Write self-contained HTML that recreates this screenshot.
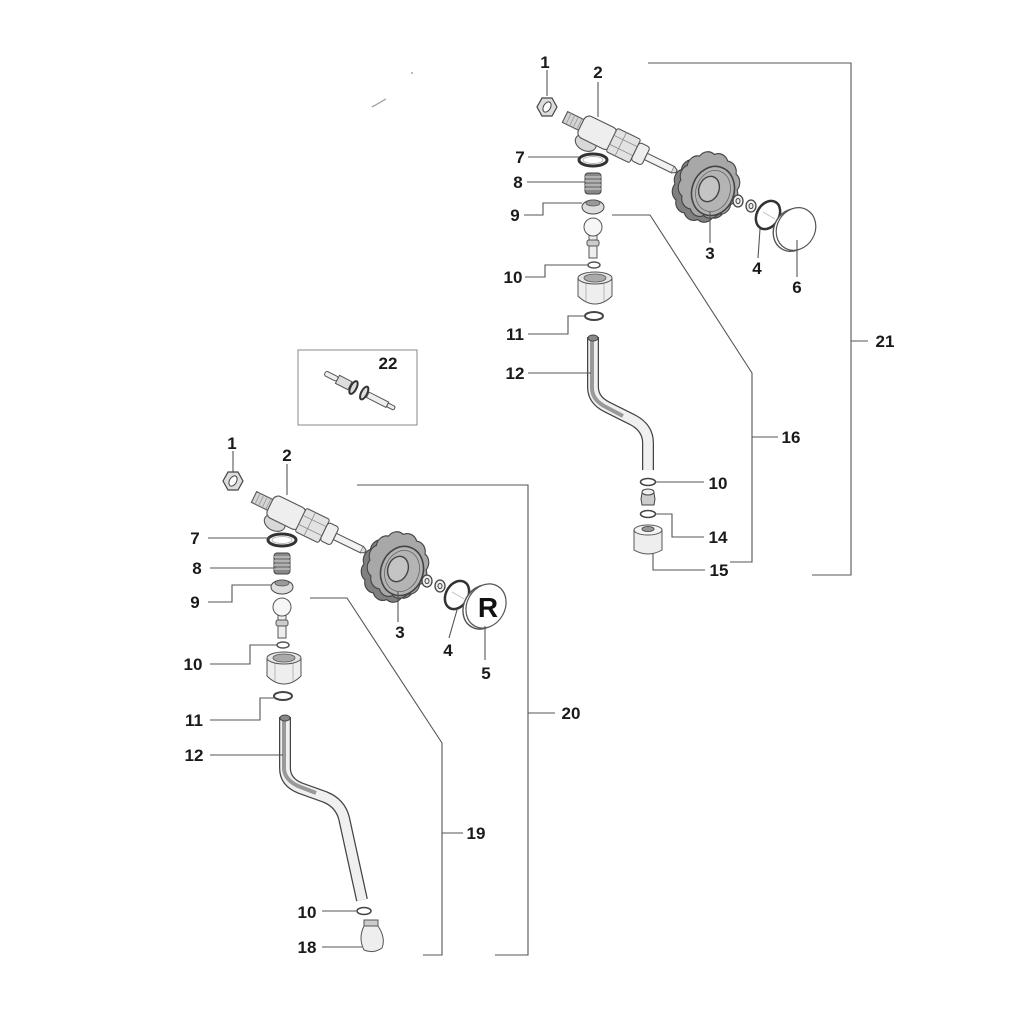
<!DOCTYPE html>
<html><head><meta charset="utf-8"><style>
html,body{margin:0;padding:0;background:#fff;}
svg{display:block;}
text{font-family:"Liberation Sans",sans-serif;font-weight:bold;font-size:17px;fill:#1a1a1a;text-anchor:middle;}
.l{stroke:#555;stroke-width:1.1;fill:none;}
</style></head><body>
<svg width="1024" height="1024" viewBox="0 0 1024 1024" xmlns="http://www.w3.org/2000/svg">
<rect width="1024" height="1024" fill="#fff"/>
<defs>
<path id="gear" d="M31,0 A11,11 0 0 1 26.85,15.5 A11,11 0 0 1 15.5,26.85 A11,11 0 0 1 0,31 A11,11 0 0 1 -15.5,26.85 A11,11 0 0 1 -26.85,15.5 A11,11 0 0 1 -31,0 A11,11 0 0 1 -26.85,-15.5 A11,11 0 0 1 -15.5,-26.85 A11,11 0 0 1 0,-31 A11,11 0 0 1 15.5,-26.85 A11,11 0 0 1 26.85,-15.5 A11,11 0 0 1 31,0 Z"/>
<g id="va">
  <g transform="translate(565,117) rotate(26)" stroke="#555" stroke-width="1.1">
    <ellipse cx="30" cy="14" rx="11" ry="8" fill="#d8d8d8"/>
    <rect x="0" y="-6" width="20" height="12" fill="#d4d4d4"/>
    <path d="M4,-6v12M8,-6v12M12,-6v12M16,-6v12" stroke="#999" stroke-width="0.8"/>
    <rect x="18" y="-12" width="36" height="24" rx="6" fill="#eee"/>
    <rect x="52" y="-13" width="26" height="26" rx="2" fill="#e2e2e2"/>
    <path d="M52,-5h26M52,5h26M62,-13v26" stroke="#888" stroke-width="0.8"/>
    <rect x="78" y="-10" width="12" height="20" rx="3" fill="#eee"/>
    <rect x="90" y="-3.5" width="30" height="7" fill="#f2f2f2"/>
    <path d="M120,-3.5 L124,-1.5 L124,1.5 L120,3.5" fill="#ddd"/>
  </g>
  <ellipse cx="593" cy="160" rx="14" ry="6" fill="none" stroke="#333" stroke-width="3"/>
  <ellipse cx="593" cy="160" rx="10" ry="3.5" fill="none" stroke="#aaa" stroke-width="0.8"/>
  <rect x="585" y="173" width="16" height="21" rx="3" fill="#888" stroke="#444"/>
  <path d="M585,177h16M585,181h16M585,185h16M585,189h16" stroke="#ddd" stroke-width="1"/>
  <ellipse cx="593" cy="207" rx="11" ry="7" fill="#ddd" stroke="#444"/>
  <ellipse cx="593" cy="203" rx="7" ry="3" fill="#999" stroke="#555" stroke-width="0.8"/>
  <rect x="589" y="234" width="8" height="24" fill="#eee" stroke="#555"/>
  <rect x="587" y="240" width="12" height="6" rx="2" fill="#ccc" stroke="#555"/>
  <circle cx="593" cy="227" r="9" fill="#f6f6f6" stroke="#555"/>
  <ellipse cx="594" cy="265" rx="6" ry="3" fill="none" stroke="#555" stroke-width="1.5"/>
  <path d="M578,278 L578,296 Q586,304 595,304 Q604,304 612,296 L612,278 Z" fill="#eee" stroke="#555"/>
  <path d="M586,281 V301 M604,281 V301" stroke="#aaa" stroke-width="0.8"/>
  <ellipse cx="595" cy="278" rx="17" ry="6" fill="#e6e6e6" stroke="#555"/>
  <ellipse cx="595" cy="278" rx="11" ry="4" fill="#aaa" stroke="#555" stroke-width="0.8"/>
  <ellipse cx="594" cy="316" rx="9" ry="4" fill="none" stroke="#444" stroke-width="2"/>
  <!-- knob -->
  <use href="#gear" transform="translate(703,189) rotate(10) scale(0.92,1)" fill="#808080" stroke="#444" stroke-width="1.2"/>
  <use href="#gear" transform="translate(709,185) rotate(10) scale(0.92,1)" fill="#a8a8a8" stroke="#444" stroke-width="1.2"/>
  <ellipse cx="713" cy="191" rx="21" ry="25" transform="rotate(20 713 191)" fill="#b4b4b4" stroke="#444" stroke-width="1.6"/>
  <ellipse cx="713" cy="191" rx="17" ry="21" transform="rotate(20 713 191)" fill="none" stroke="#666" stroke-width="0.8"/>
  <ellipse cx="709" cy="189" rx="10" ry="13" transform="rotate(20 709 189)" fill="#c4c4c4" stroke="#444" stroke-width="1.4"/>
  <ellipse cx="738" cy="201" rx="5" ry="6" fill="#eee" stroke="#444" stroke-width="1.3"/>
  <ellipse cx="738" cy="201" rx="2" ry="2.5" fill="none" stroke="#444"/>
  <ellipse cx="751" cy="206" rx="5" ry="6" fill="#eee" stroke="#444" stroke-width="1.3"/>
  <ellipse cx="751" cy="206" rx="2" ry="2.5" fill="none" stroke="#444"/>
  <ellipse cx="768" cy="215" rx="11" ry="15" transform="rotate(30 768 215)" fill="none" stroke="#333" stroke-width="2.5"/>
  <line x1="763" y1="212" x2="775" y2="219" stroke="#bbb" stroke-width="0.8"/>
</g>
</defs>

<path d="M372,107 L386,99" stroke="#999" stroke-width="1.2"/>
<circle cx="412" cy="73" r="1" fill="#aaa"/>

<!-- TOP ASSEMBLY -->
<use href="#va"/>
<polygon points="557,107 552,116 542,116 537,107 542,98 552,98" fill="#ddd" stroke="#444" stroke-width="1.2"/>
<ellipse cx="547" cy="107" rx="3.5" ry="5.5" transform="rotate(30 547 107)" fill="#fff" stroke="#444"/>
<ellipse cx="793" cy="230" rx="19" ry="22" transform="rotate(30 793 230)" fill="#fff" stroke="#555" stroke-width="1.4"/>
<ellipse cx="796" cy="229" rx="19" ry="22" transform="rotate(30 796 229)" fill="#fff" stroke="#555" stroke-width="1.2"/>
<path d="M593,337 L593,387 Q593,400 607,407 L633,420 Q648,428 648,443 L648,470" fill="none" stroke="#444" stroke-width="12"/>
<path d="M593,337 L593,387 Q593,400 607,407 L633,420 Q648,428 648,443 L648,470" fill="none" stroke="#f0f0f0" stroke-width="9.5"/>
<path d="M592,340 L592,388 Q592,399 604,406 L623,416" fill="none" stroke="#999" stroke-width="4"/>
<ellipse cx="593" cy="338" rx="5" ry="3" fill="#888" stroke="#444"/>
<ellipse cx="648" cy="482" rx="7.5" ry="3.5" fill="none" stroke="#444" stroke-width="1.5"/>
<path d="M642,493 L654,493 L655,499 L654,505 L642,505 L641,499 Z" fill="#ccc" stroke="#444"/>
<ellipse cx="648" cy="492" rx="6" ry="3" fill="#eee" stroke="#444"/>
<ellipse cx="648" cy="514" rx="7.5" ry="3.5" fill="none" stroke="#444" stroke-width="1.5"/>
<path d="M634,530 L634,550 Q648,558 662,550 L662,530 Z" fill="#eee" stroke="#555"/>
<ellipse cx="648" cy="530" rx="14" ry="5" fill="#f4f4f4" stroke="#555"/>
<ellipse cx="648" cy="529" rx="6" ry="2.5" fill="#999" stroke="#555"/>

<path class="l" d="M547,70 V96"/>
<path class="l" d="M598,82 V117"/>
<path class="l" d="M528,157 H579"/>
<path class="l" d="M527,182 H585"/>
<path class="l" d="M524,215 H543 V203 H582"/>
<path class="l" d="M525,277 H545 V265 H588"/>
<path class="l" d="M528,334 H568 V316 H585"/>
<path class="l" d="M528,373 H591"/>
<path class="l" d="M612,215 H650 L752,373 V562 H730"/>
<path class="l" d="M752,437 H778"/>
<path class="l" d="M648,63 H851 V575 H812"/>
<path class="l" d="M851,341 H868"/>
<path class="l" d="M656,482 H704"/>
<path class="l" d="M656,514 H672 V537 H704"/>
<path class="l" d="M653,553 V570 H705"/>
<path class="l" d="M710,212 V243"/>
<path class="l" d="M760,229 L758,258"/>
<path class="l" d="M797,240 V277"/>

<text x="545" y="68">1</text>
<text x="598" y="78">2</text>
<text x="520" y="163">7</text>
<text x="518" y="188">8</text>
<text x="515" y="221">9</text>
<text x="513" y="283">10</text>
<text x="515" y="340">11</text>
<text x="515" y="379">12</text>
<text x="710" y="259">3</text>
<text x="757" y="274">4</text>
<text x="797" y="293">6</text>
<text x="885" y="347">21</text>
<text x="791" y="443">16</text>
<text x="718" y="489">10</text>
<text x="718" y="543">14</text>
<text x="719" y="576">15</text>

<!-- BOX 22 -->
<rect x="298" y="350" width="119" height="75" fill="none" stroke="#888" stroke-width="1"/>
<text x="388" y="369">22</text>
<g transform="translate(325,373) rotate(27)" stroke="#555" stroke-width="1">
  <rect x="0" y="-2.5" width="14" height="5" rx="2" fill="#eee"/>
  <rect x="14" y="-4.5" width="14" height="9" fill="#ddd"/>
  <ellipse cx="32" cy="0" rx="3" ry="7" fill="#ddd" stroke="#333" stroke-width="2"/>
  <ellipse cx="44" cy="0" rx="3" ry="7" fill="#ddd" stroke="#333" stroke-width="2"/>
  <rect x="48" y="-3" width="22" height="6" fill="#eee"/>
  <rect x="70" y="-2" width="8" height="4" rx="1.5" fill="#eee"/>
</g>

<!-- BOTTOM ASSEMBLY -->
<use href="#va" transform="translate(-311,380)"/>
<polygon points="243,481 238,490 228,490 223,481 228,472 238,472" fill="#ddd" stroke="#444" stroke-width="1.2"/>
<ellipse cx="233" cy="481" rx="3.5" ry="5.5" transform="rotate(30 233 481)" fill="#fff" stroke="#444"/>
<ellipse cx="483" cy="607" rx="19" ry="23" transform="rotate(30 483 607)" fill="#fff" stroke="#555" stroke-width="1.4"/>
<ellipse cx="486" cy="606" rx="19" ry="23" transform="rotate(30 486 606)" fill="#fff" stroke="#555" stroke-width="1.2"/>
<text x="488" y="617" style="font-size:28px;fill:#111">R</text>
<path d="M285,717 L285,768 Q285,782 300,788 L325,797 Q340,803 344,818 L362,900" fill="none" stroke="#444" stroke-width="12"/>
<path d="M285,717 L285,768 Q285,782 300,788 L325,797 Q340,803 344,818 L362,900" fill="none" stroke="#f0f0f0" stroke-width="9.5"/>
<path d="M284,720 L284,769 Q285,780 298,786 L316,793" fill="none" stroke="#999" stroke-width="4"/>
<ellipse cx="285" cy="718" rx="5" ry="3" fill="#888" stroke="#444"/>
<ellipse cx="364" cy="911" rx="7" ry="3.5" fill="none" stroke="#444" stroke-width="1.5"/>
<path d="M364,920 L378,920 L378,926 L364,926 Z" fill="#ccc" stroke="#555"/>
<path d="M364,926 L378,926 Q386,938 382,948 Q373,954 364,950 Q358,938 364,926 Z" fill="#eee" stroke="#555"/>

<path class="l" d="M233,451 V472"/>
<path class="l" d="M287,464 V495"/>
<path class="l" d="M208,538 H270"/>
<path class="l" d="M210,568 H276"/>
<path class="l" d="M208,602 H232 V585 H272"/>
<path class="l" d="M210,664 H250 V645 H277"/>
<path class="l" d="M210,720 H260 V698 H275"/>
<path class="l" d="M210,755 H283"/>
<path class="l" d="M310,598 H347 L442,743 V955 H423"/>
<path class="l" d="M442,833 H463"/>
<path class="l" d="M357,485 H528 V955 H495"/>
<path class="l" d="M528,713 H555"/>
<path class="l" d="M398,592 V622"/>
<path class="l" d="M457,610 L449,638"/>
<path class="l" d="M485,626 V660"/>
<path class="l" d="M322,911 H356"/>
<path class="l" d="M322,947 H362"/>

<text x="232" y="449">1</text>
<text x="287" y="461">2</text>
<text x="195" y="544">7</text>
<text x="197" y="574">8</text>
<text x="195" y="608">9</text>
<text x="193" y="670">10</text>
<text x="194" y="726">11</text>
<text x="194" y="761">12</text>
<text x="400" y="638">3</text>
<text x="448" y="656">4</text>
<text x="486" y="679">5</text>
<text x="571" y="719">20</text>
<text x="476" y="839">19</text>
<text x="307" y="918">10</text>
<text x="307" y="953">18</text>
</svg>
</body></html>
